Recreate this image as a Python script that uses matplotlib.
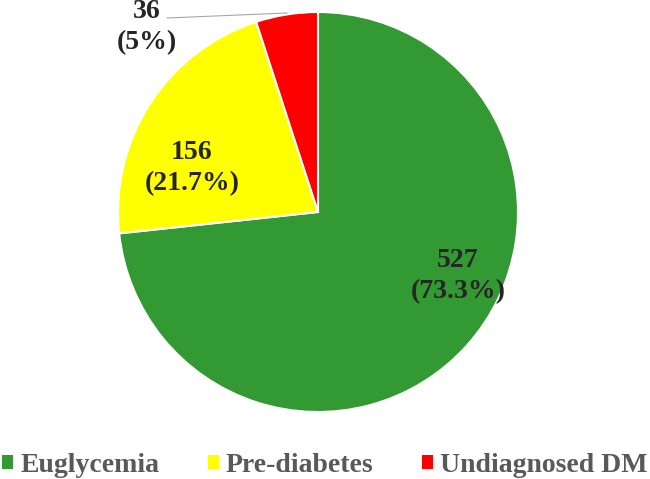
import numpy as np
import matplotlib.pyplot as plt
from matplotlib.patches import Patch

# Data
labels = ['Euglycemia', 'Pre-diabetes', 'Undiagnosed DM']
counts = [527, 156, 36]
pcts = ['73.3%', '21.7%', '5%']
colors = ['#339933', '#FFFF00', '#FF0000']

plt.rcParams['font.family'] = ['Liberation Serif', 'DejaVu Serif']

fig = plt.figure(figsize=(6.5, 4.79), dpi=100)
ax = fig.add_axes([118 / 650, 67 / 479, 400 / 650, 400 / 479])

wedges, _ = ax.pie(counts, colors=colors, startangle=90, counterclock=False,
                   wedgeprops=dict(edgecolor='white', linewidth=1.5))
ax.set_xlim(-1, 1)
ax.set_ylim(-1, 1)
ax.set_aspect('equal')
ax.axis('off')

# Slice labels
lbl = dict(ha='center', va='center', fontsize=20, fontweight='bold',
           color='#262626', linespacing=1.3, clip_on=False)
ax.text(0.70, -0.32, '%d\n(%s)' % (counts[0], pcts[0]), **lbl)
ax.text(-0.63, 0.22, '%d\n(%s)' % (counts[1], pcts[1]), **lbl)
ax.text(-0.855, 0.925, '%d\n(%s)' % (counts[2], pcts[2]), **lbl)
ax.plot([-0.755, -0.155], [0.97, 0.995], color='#a6a6a6', lw=0.8, clip_on=False)

handles = [Patch(facecolor=c, edgecolor='none') for c in colors]
leg = fig.legend(handles, labels, loc='center', ncol=3, frameon=False,
                 bbox_to_anchor=(0.5, 1 - 465 / 479), handlelength=0.4,
                 handleheight=0.4, handletextpad=0.25, columnspacing=1.75,
                 borderaxespad=0, borderpad=0,
                 prop=dict(size=20, weight='bold'))
for t in leg.get_texts():
    t.set_color('#595959')

plt.savefig('out.png')
